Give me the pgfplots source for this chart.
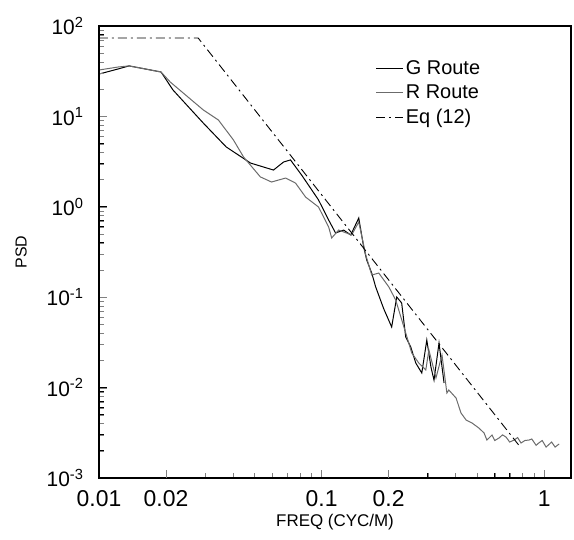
\documentclass[border=0pt]{standalone}
\usepackage{fontspec}
\setmainfont{Liberation Sans}
\usepackage{pgfplots}
\pgfplotsset{compat=1.18}
\definecolor{rgray}{rgb}{0.42,0.42,0.42}
\begin{document}
\begin{tikzpicture}
\begin{axis}[
  scale only axis, width=472bp, height=452bp,
  xmode=log, ymode=log,
  xmin=0.01, xmax=1.32, ymin=1e-3, ymax=1e2,
  clip=false, axis on top,
  axis line style={draw=black, line width=1.1pt},
  xtick align=inside, ytick align=inside,
  xtick pos=bottom, ytick pos=left,
  major tick length=8bp, minor tick length=5bp,
  /pgf/number format/assume math mode=true,
  xtick={0.01,0.1,1}, xticklabels={0.01,0.1,1},
  extra x ticks={0.02,0.2}, extra x tick labels={0.02,0.2},
  minor xtick={0.03,0.04,0.05,0.06,0.07,0.08,0.09,0.3,0.4,0.5,0.6,0.7,0.8,0.9},
  ytick={1e-3,1e-2,1e-1,1,10,100},
  minor ytick={2e-3,3e-3,4e-3,5e-3,6e-3,7e-3,8e-3,9e-3,2e-2,3e-2,4e-2,5e-2,6e-2,7e-2,8e-2,9e-2,0.2,0.3,0.4,0.5,0.6,0.7,0.8,0.9,2,3,4,5,6,7,8,9,20,30,40,50,60,70,80,90},
  yticklabels={10\textsuperscript{-3},10\textsuperscript{-2},10\textsuperscript{-1},10\textsuperscript{0},10\textsuperscript{1},10\textsuperscript{2}},
  xticklabel style={font=\fontsize{23}{26}\selectfont, yshift=-9bp},
  yticklabel style={font=\fontsize{21}{24}\selectfont, xshift=-12bp},
  xlabel={FREQ (CYC/M)}, ylabel={PSD},
  xlabel style={font=\fontsize{17}{20}\selectfont, at={(axis description cs:0.5,-0.0973)}, anchor=center},
  ylabel style={font=\fontsize{16}{19}\selectfont, at={(axis description cs:-0.165,0.5)}, anchor=center},
  legend style={draw=none, fill=none, at={(0.58,0.933)}, anchor=north west,
    font=\fontsize{20}{24}\selectfont, row sep=5bp},
  legend cell align=left,
  legend image code/.code={\draw[#1] (-17bp,0bp) -- (10bp,0bp);},
]
\addplot[black, line width=1pt] coordinates {
(0.0100,29.4) (0.0122,33.5) (0.01365,36.2) (0.0190,31.0) (0.0215,19.6) (0.0294,8.45) (0.0373,4.59) (0.0436,3.56) (0.0479,3.05) (0.0608,2.55) (0.0675,3.13) (0.0725,3.30) (0.0813,2.25) (0.0873,1.74) (0.0969,1.19) (0.1076,0.714) (0.1156,0.513) (0.1256,0.553) (0.1352,0.488) (0.1469,0.752) (0.1546,0.359) (0.1595,0.258) (0.168,0.185) (0.175,0.130) (0.19,0.075) (0.2065,0.0468) (0.2176,0.1005) (0.229,0.0863) (0.2388,0.0363) (0.2516,0.0281) (0.265,0.0187) (0.282,0.0145) (0.297,0.0336) (0.310,0.0169) (0.320,0.0121) (0.337,0.0311) (0.355,0.01125)
};
\addlegendentry{G Route}
\addplot[rgray, line width=1pt] coordinates {
(0.0100,32.6) (0.0122,35.2) (0.01365,36.2) (0.0190,31.0) (0.0209,24.0) (0.0294,11.8) (0.0344,9.12) (0.0402,5.48) (0.0446,3.56) (0.0531,2.14) (0.0596,1.88) (0.0689,2.08) (0.0764,1.83) (0.0848,1.28) (0.0969,0.995) (0.1076,0.598) (0.111,0.452) (0.1193,0.553) (0.1365,0.488) (0.1469,0.679) (0.158,0.293) (0.168,0.176) (0.1807,0.185) (0.2005,0.130) (0.2153,0.0931) (0.2388,0.0402) (0.2541,0.0242) (0.2733,0.0187) (0.294,0.0157) (0.3034,0.0261) (0.3266,0.0128) (0.3475,0.0230) (0.3656,0.00871) (0.373,0.0094) (0.402,0.00767) (0.423,0.00524) (0.446,0.00438) (0.474,0.00406) (0.509,0.00357) (0.537,0.00315) (0.553,0.00263) (0.583,0.00299) (0.60,0.0026) (0.627,0.00277) (0.65,0.0030) (0.674,0.00284) (0.70,0.0025) (0.733,0.00263) (0.76,0.0028) (0.787,0.00244) (0.82,0.0026) (0.855,0.00263) (0.88,0.0027) (0.92,0.0023) (0.948,0.00245) (0.98,0.0026) (1.02,0.0022) (1.053,0.00236) (1.08,0.0025) (1.12,0.0022) (1.168,0.00238)
};
\addlegendentry{R Route}
\addplot[black, line width=0.9pt, dash pattern=on 9bp off 4bp on 2bp off 4bp] coordinates {
(0.0100,73.6) (0.0279,73.6) (0.787,0.00215)
};
\addlegendentry{Eq (12)}
\draw[black, line width=1.1pt] (rel axis cs:0,0) rectangle (rel axis cs:1,1);
\pgfplotsinvokeforeach{0.01,0.02,0.1,0.2,1}{\draw[black, line width=0.9pt] (axis cs:#1,0.001) -- ++(0bp,8bp);}
\pgfplotsinvokeforeach{0.03,0.04,0.05,0.06,0.07,0.08,0.09,0.3,0.4,0.5,0.6,0.7,0.8,0.9}{\draw[black, line width=0.8pt] (axis cs:#1,0.001) -- ++(0bp,5bp);}
\pgfplotsinvokeforeach{0.001,0.01,0.1,1,10,100}{\draw[black, line width=0.9pt] (axis cs:0.01,#1) -- ++(8bp,0bp);}
\pgfplotsinvokeforeach{0.002,0.003,0.004,0.005,0.006,0.007,0.008,0.009,0.02,0.03,0.04,0.05,0.06,0.07,0.08,0.09,0.2,0.3,0.4,0.5,0.6,0.7,0.8,0.9,2,3,4,5,6,7,8,9,20,30,40,50,60,70,80,90}{\draw[black, line width=0.8pt] (axis cs:0.01,#1) -- ++(5bp,0bp);}
\end{axis}
\pgfresetboundingbox
\path[use as bounding box] (current axis.south west) ++(-99bp,-62bp) rectangle ++(574bp,540bp);
\end{tikzpicture}
\end{document}
